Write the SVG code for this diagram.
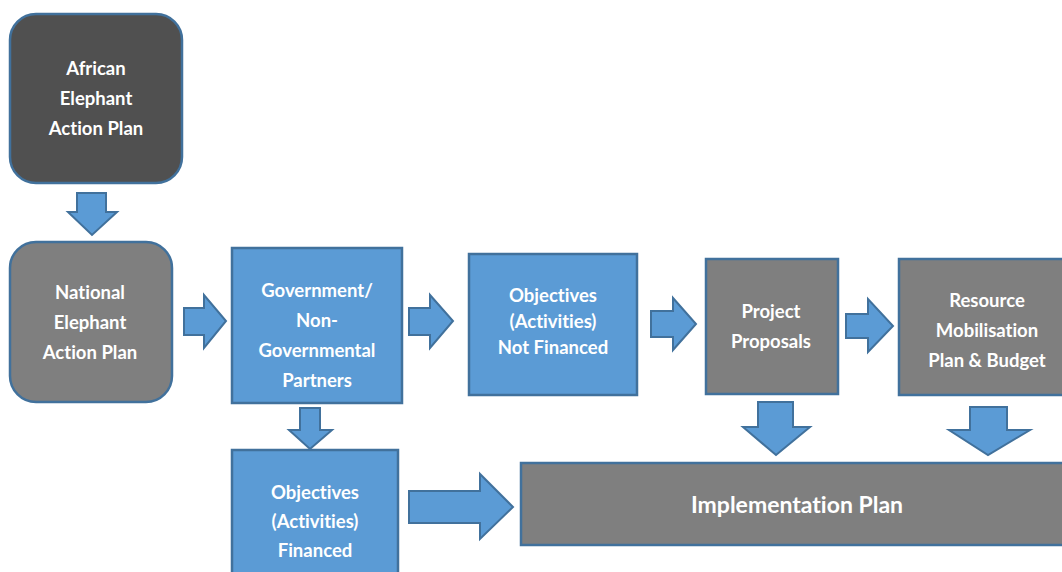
<svg xmlns="http://www.w3.org/2000/svg" width="1062" height="572" viewBox="0 0 1062 572">
<style>
.blue{fill:#5b9bd5;stroke:#41719c;stroke-width:2.5}
.gray{fill:#7f7f7f;stroke:#41719c;stroke-width:2.5}
.dark{fill:#505050;stroke:#41719c;stroke-width:2.5}
.arr{fill:#5b9bd5;stroke:#41719c;stroke-width:2;stroke-linejoin:miter}
text{font-family:"Lato","Open Sans","Liberation Sans",sans-serif;font-weight:bold;font-size:18.5px;fill:#ffffff;text-anchor:middle;font-variant-ligatures:none}
.big{font-size:23px}
</style>
<rect width="1062" height="572" fill="#ffffff"/>
<g id="african">
<rect class="dark" x="10" y="14" width="172" height="169" rx="26"/>
<text x="96" y="75">African</text>
<text x="96" y="105">Elephant</text>
<text x="96" y="135">Action Plan</text>
</g>
<g id="national">
<rect class="gray" x="10" y="242" width="162" height="160" rx="26"/>
<text x="90" y="299">National</text>
<text x="90" y="329">Elephant</text>
<text x="90" y="359">Action Plan</text>
</g>
<g id="government">
<rect class="blue" x="232" y="248" width="170" height="155"/>
<text x="317" y="297">Government/</text>
<text x="317" y="327">Non-</text>
<text x="317" y="357">Governmental</text>
<text x="317" y="387">Partners</text>
</g>
<g id="notfinanced">
<rect class="blue" x="469" y="254" width="168" height="141"/>
<text x="553" y="302">Objectives</text>
<text x="553" y="328">(Activities)</text>
<text x="553" y="354">Not Financed</text>
</g>
<g id="proposals">
<rect class="gray" x="706" y="259" width="132" height="135"/>
<text x="771" y="318">Project</text>
<text x="771" y="348">Proposals</text>
</g>
<g id="resource">
<rect class="gray" x="899" y="259" width="170" height="136"/>
<text x="987" y="307">Resource</text>
<text x="987" y="337">Mobilisation</text>
<text x="987" y="367">Plan &amp; Budget</text>
</g>
<g id="financed">
<rect class="blue" x="232" y="450" width="166" height="130"/>
<text x="315" y="499">Objectives</text>
<text x="315" y="528">(Activities)</text>
<text x="315" y="557">Financed</text>
</g>
<g id="implementation">
<rect class="gray" x="521" y="463" width="550" height="82"/>
<text class="big" x="797" y="513">Implementation Plan</text>
</g>
<g id="connectors">
<polygon class="arr" points="77,193 106,193 106,212 117,212 92,235 68,212 77,212"/>
<polygon class="arr" points="184,308 204,308 204,295 226,321 204,348 204,335 184,335"/>
<polygon class="arr" points="409,308 430,308 430,295 453,321 430,348 430,335 409,335"/>
<polygon class="arr" points="651,311 673,311 673,298 696,324 673,350 673,337 651,337"/>
<polygon class="arr" points="846,314 868,314 868,299 893,326 868,352 868,338 846,338"/>
<polygon class="arr" points="300,408 320,408 320,430 332,430 310,449 289,430 300,430"/>
<polygon class="arr" points="409,491 480,491 480,474 513,507 480,539 480,523 409,523"/>
<polygon class="arr" points="758,402 793,402 793,427 810,427 776,455 743,427 758,427"/>
<polygon class="arr" points="970,407 1007,407 1007,430 1030,430 988,455 949,430 970,430"/>
</g>
</svg>
